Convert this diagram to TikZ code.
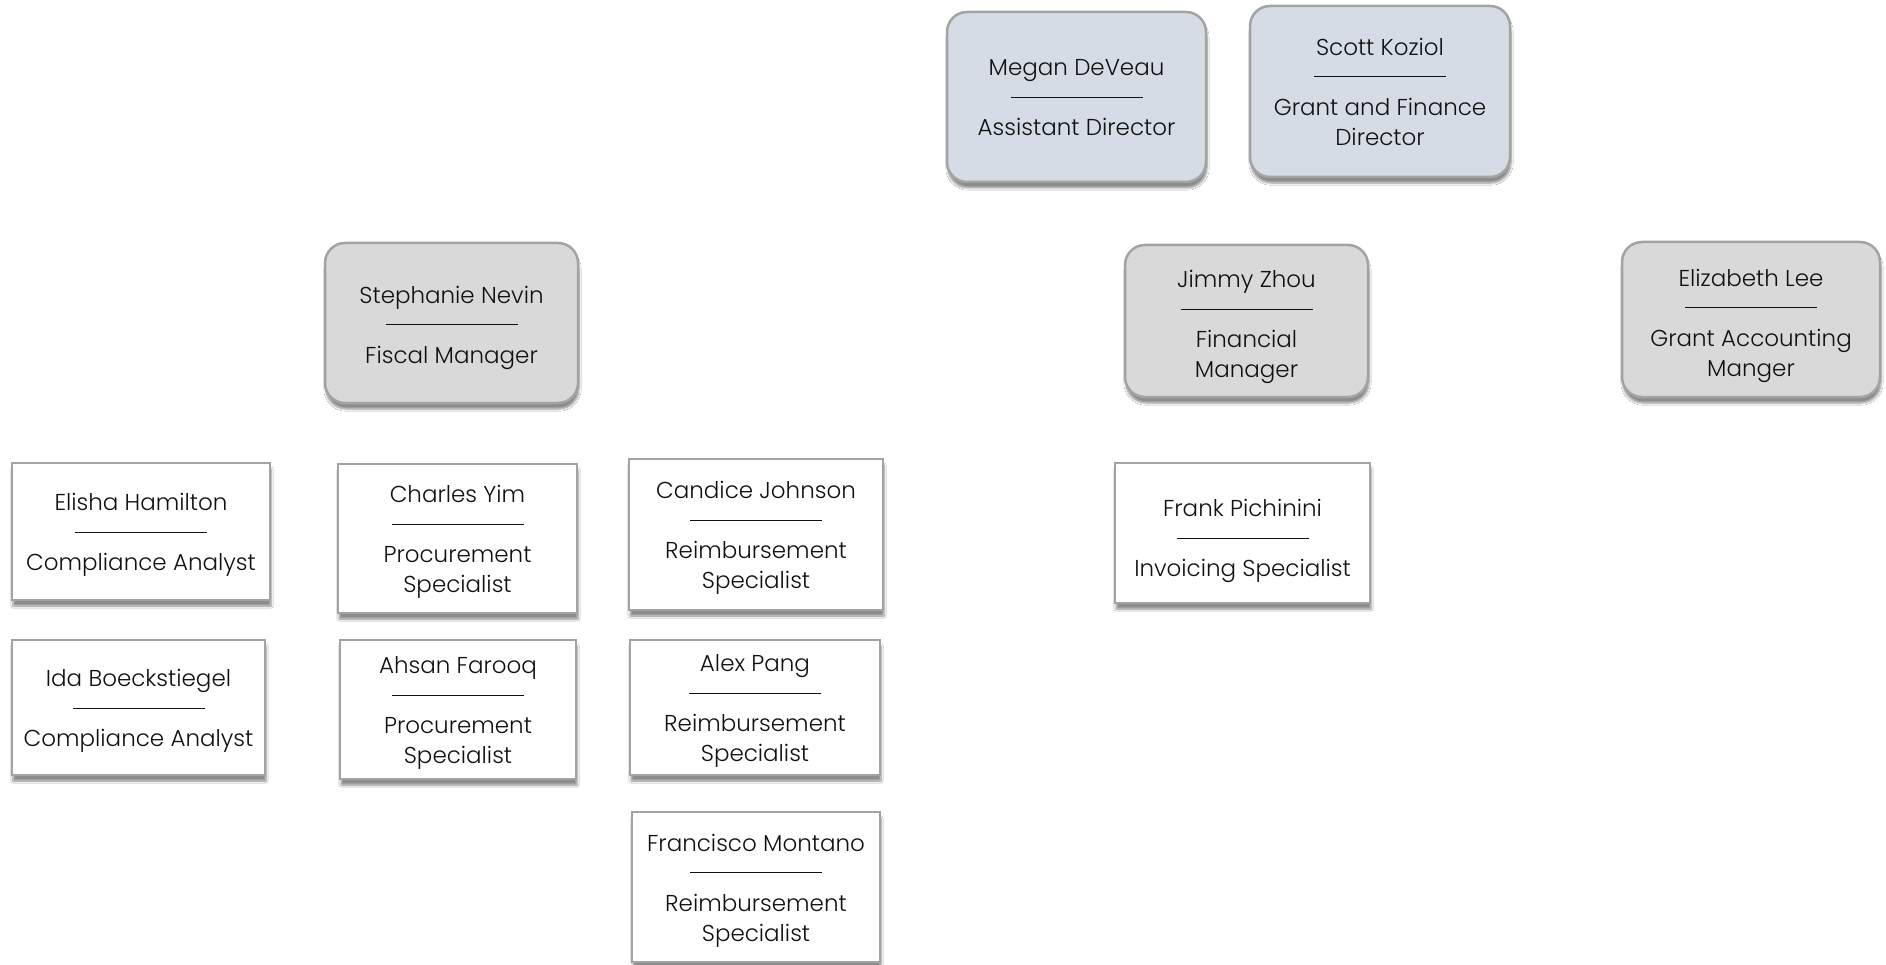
\documentclass[tikz,border=0pt]{standalone}
\usepackage{fontspec}
\setmainfont{Poppins Light}
\usetikzlibrary{shadows.blur}
\definecolor{bordergray}{HTML}{A3A3A3}
\definecolor{bluegray}{HTML}{D6DCE5}
\definecolor{mgrgray}{HTML}{D9D9D9}
\definecolor{txt}{HTML}{111111}
\newcommand{\sepline}{\rule[8pt]{132pt}{1pt}}
\newcommand{\tstr}[1][24pt]{\rule{0pt}{#1}}
\newcommand{\bstr}{\rule[-6pt]{0pt}{6pt}}
\tikzset{
  card/.style={draw=bordergray, line width=2.5pt, align=center, inner sep=0pt, text=txt,
    font=\fontsize{23}{30}\selectfont,
    blur shadow={shadow xshift=1pt, shadow yshift=-6pt, shadow blur steps=6, shadow opacity=45}},
  topcard/.style={card, rounded corners=20pt, fill=bluegray},
  mgrcard/.style={card, rounded corners=20pt, fill=mgrgray},
  staffcard/.style={card, fill=white},
}
\begin{document}
\begin{tikzpicture}[x=1pt, y=-1pt]
\useasboundingbox[fill=white] (0,0) rectangle (1886,965);
% top level
\node[topcard, minimum width=259pt, minimum height=170pt] (megan) at (1076.5,97) {\tstr Megan DeVeau\\\sepline\\Assistant Director\bstr};
\node[topcard, minimum width=260pt, minimum height=171pt] (scott) at (1380,91.5) {\tstr Scott Koziol\\\sepline\\Grant and Finance\\Director\bstr};
% managers
\node[mgrcard, minimum width=253pt, minimum height=160pt] (stephanie) at (451.5,323) {\tstr[27pt]Stephanie Nevin\\\sepline\\Fiscal Manager\bstr};
\node[mgrcard, minimum width=243pt, minimum height=152pt] (jimmy) at (1246.5,321) {\tstr[30pt]Jimmy Zhou\\\sepline\\Financial\\Manager\bstr};
\node[mgrcard, minimum width=258pt, minimum height=155pt] (elizabeth) at (1751,319.5) {\tstr[30pt]Elizabeth Lee\\\sepline\\Grant Accounting\\Manger\bstr};
% staff
\node[staffcard, minimum width=258pt, minimum height=137pt] (elisha) at (141,531.5) {\tstr Elisha Hamilton\\\sepline\\Compliance Analyst\bstr};
\node[staffcard, minimum width=253pt, minimum height=135pt] (ida) at (138.5,707.5) {\tstr Ida Boeckstiegel\\\sepline\\Compliance Analyst\bstr};
\node[staffcard, minimum width=239pt, minimum height=149pt] (charles) at (457.5,538.5) {\tstr Charles Yim\\\sepline\\Procurement\\Specialist\bstr};
\node[staffcard, minimum width=236pt, minimum height=139pt] (ahsan) at (458,709.5) {\tstr Ahsan Farooq\\\sepline\\Procurement\\Specialist\bstr};
\node[staffcard, minimum width=254pt, minimum height=151pt] (candice) at (756,534.5) {\tstr Candice Johnson\\\sepline\\Reimbursement\\Specialist\bstr};
\node[staffcard, minimum width=250pt, minimum height=135pt] (alex) at (755,707.5) {\tstr Alex Pang\\\sepline\\Reimbursement\\Specialist\bstr};
\node[staffcard, minimum width=248pt, minimum height=150pt] (francisco) at (756,887) {\tstr Francisco Montano\\\sepline\\Reimbursement\\Specialist\bstr};
\node[staffcard, minimum width=255pt, minimum height=140pt] (frank) at (1242.5,533) {\tstr[34pt]Frank Pichinini\\\sepline\\Invoicing Specialist\bstr};
\end{tikzpicture}
\end{document}
